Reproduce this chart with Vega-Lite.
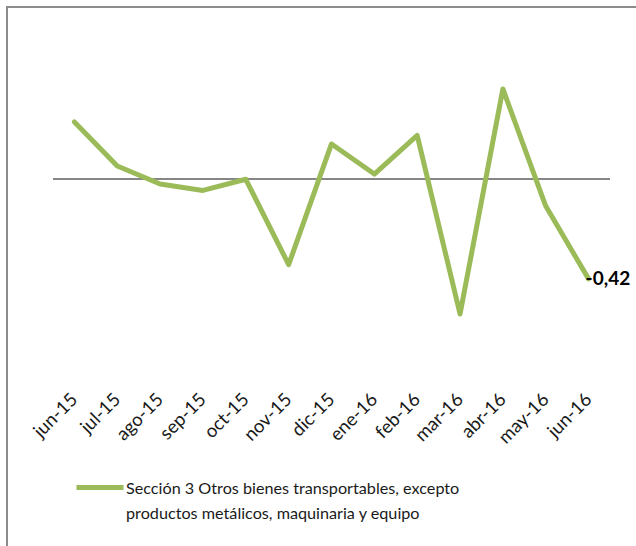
{
  "$schema": "https://vega.github.io/schema/vega-lite/v6.json",
  "autosize": "none",
  "width": 639,
  "height": 549,
  "padding": {"left": 7, "top": 7, "right": -10, "bottom": -10},
  "background": "white",
  "config": {
    "view": {"stroke": "#8c8c8c", "strokeWidth": 2},
    "locale": {"number": {"decimal": ",", "thousands": ".", "grouping": [3], "currency": ["", ""], "minus": "-"}},
    "style": {"guide-label": {"lineHeight": 25}}
  },
  "data": {
    "values": [
      {"mes": "jun-15", "valor": 0.242, "serie": "Sección 3 Otros bienes transportables, excepto productos metálicos, maquinaria y equipo"},
      {"mes": "jul-15", "valor": 0.056, "serie": "Sección 3 Otros bienes transportables, excepto productos metálicos, maquinaria y equipo"},
      {"mes": "ago-15", "valor": -0.02, "serie": "Sección 3 Otros bienes transportables, excepto productos metálicos, maquinaria y equipo"},
      {"mes": "sep-15", "valor": -0.047, "serie": "Sección 3 Otros bienes transportables, excepto productos metálicos, maquinaria y equipo"},
      {"mes": "oct-15", "valor": 0.0, "serie": "Sección 3 Otros bienes transportables, excepto productos metálicos, maquinaria y equipo"},
      {"mes": "nov-15", "valor": -0.36, "serie": "Sección 3 Otros bienes transportables, excepto productos metálicos, maquinaria y equipo"},
      {"mes": "dic-15", "valor": 0.149, "serie": "Sección 3 Otros bienes transportables, excepto productos metálicos, maquinaria y equipo"},
      {"mes": "ene-16", "valor": 0.022, "serie": "Sección 3 Otros bienes transportables, excepto productos metálicos, maquinaria y equipo"},
      {"mes": "feb-16", "valor": 0.185, "serie": "Sección 3 Otros bienes transportables, excepto productos metálicos, maquinaria y equipo"},
      {"mes": "mar-16", "valor": -0.568, "serie": "Sección 3 Otros bienes transportables, excepto productos metálicos, maquinaria y equipo"},
      {"mes": "abr-16", "valor": 0.381, "serie": "Sección 3 Otros bienes transportables, excepto productos metálicos, maquinaria y equipo"},
      {"mes": "may-16", "valor": -0.113, "serie": "Sección 3 Otros bienes transportables, excepto productos metálicos, maquinaria y equipo"},
      {"mes": "jun-16", "valor": -0.42, "serie": "Sección 3 Otros bienes transportables, excepto productos metálicos, maquinaria y equipo"}
    ]
  },
  "layer": [
    {
      "mark": {"type": "rule", "color": "#868686", "strokeWidth": 1.5},
      "encoding": {
        "y": {"datum": 0, "type": "quantitative", "scale": {"domain": [-0.8, 0.6], "range": [362, 30]}, "axis": null},
        "x": {"datum": "jun-15", "type": "nominal", "bandPosition": 0},
        "x2": {"datum": "jun-16", "bandPosition": 1}
      }
    },
    {
      "mark": {"type": "line", "strokeWidth": 5, "strokeJoin": "round", "strokeCap": "round"},
      "encoding": {
        "x": {
          "field": "mes", "type": "nominal", "sort": null,
          "scale": {
            "type": "band", "paddingInner": 0, "paddingOuter": 0, "range": [46, 603],
            "domain": ["jun-15", "jul-15", "ago-15", "sep-15", "oct-15", "nov-15", "dic-15", "ene-16", "feb-16", "mar-16", "abr-16", "may-16", "jun-16"]
          },
          "axis": {
            "orient": "bottom", "offset": -187, "title": null, "domain": false, "ticks": false, "tickSize": 0,
            "labelAngle": -45, "labelPadding": 27, "labelOffset": 0,
            "labelFont": "Lato", "labelFontSize": 18.5, "labelColor": "#1a1a1a"
          }
        },
        "y": {"field": "valor", "type": "quantitative", "scale": {"domain": [-0.8, 0.6], "range": [362, 30]}, "axis": null},
        "color": {
          "field": "serie", "type": "nominal",
          "scale": {"range": ["#9BBB59"]},
          "legend": {
            "orient": "none", "legendX": 67, "legendY": 461, "title": null, "padding": 0,
            "symbolType": "M-1,-0.28H1", "symbolSize": 2209, "symbolStrokeWidth": 5,
            "labelFont": "Lato", "labelFontSize": 16.2, "labelColor": "#1a1a1a",
            "labelBaseline": "alphabetic", "labelLimit": 600, "labelOffset": 0,
            "labelExpr": "[slice(datum.label, 0, 46), slice(datum.label, 47)]"
          }
        }
      }
    },
    {
      "transform": [{"filter": {"field": "mes", "equal": "jun-16"}}],
      "mark": {"type": "text", "align": "left", "baseline": "middle", "dx": -3, "font": "Lato", "fontSize": 19, "fontWeight": "bold", "color": "black"},
      "encoding": {
        "x": {"field": "mes", "type": "nominal", "sort": null},
        "y": {"field": "valor", "type": "quantitative"},
        "text": {"field": "valor", "type": "quantitative", "format": ".2f"}
      }
    }
  ]
}
